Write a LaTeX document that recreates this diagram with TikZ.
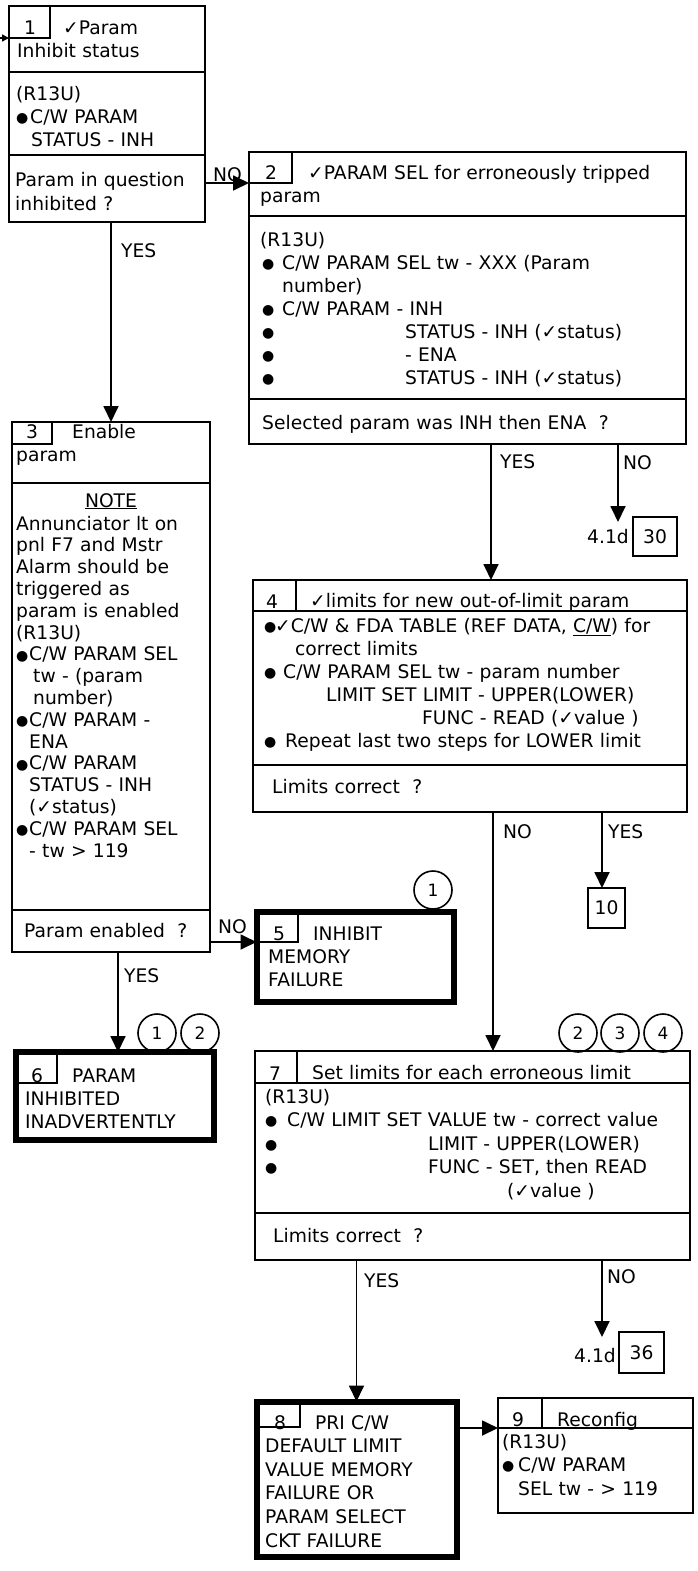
\documentclass[tikz,border=0pt]{standalone}
\usepackage{fontspec}
\setmainfont{DejaVu Sans}
\usetikzlibrary{arrows.meta}

\newcommand{\chk}{✓}
\newcommand{\bl}[1]{\makebox[#1][l]{\raisebox{0.8pt}{\fontsize{14}{14}\selectfont ●}}}

\tikzset{
  stepbox/.style={draw, line width=1.8pt, anchor=north west, inner sep=0pt, outer sep=0pt},
  endbox/.style={stepbox, line width=6pt},
  numbox/.style={draw, line width=1.6pt, anchor=north west, inner sep=0pt, outer sep=0pt},
  refbox/.style={numbox, font=\fontsize{18.7}{23}\selectfont},
  txt/.style={anchor=base west, inner sep=0pt, text width=420pt, align=left, font=\fontsize{18.7}{23}\selectfont},
  num/.style={anchor=base, inner sep=0pt, font=\fontsize{18.7}{23}\selectfont},
  lbl/.style={anchor=base west, inner sep=0pt, font=\fontsize{18.7}{23}\selectfont},
  conn/.style={circle, draw, line width=1.6pt, minimum size=38pt, inner sep=0pt, font=\fontsize{17}{20}\selectfont},
  divline/.style={line width=1.6pt},
  arr/.style={line width=1.8pt, -{Triangle[length=16pt,width=15pt]}},
}

\begin{document}
\begin{tikzpicture}[x=1pt, y=-1pt]
	\useasboundingbox (0,0) rectangle (698,1571);

	% Box 1: param inhibit status
	\node[stepbox, minimum width=196pt, minimum height=216pt] (b1) at (9,6) {};
	\node[numbox, minimum width=41pt, minimum height=32pt] (n1) at (9,6) {};
	\draw[divline] (b1.west |- 0,72) -- (b1.east |- 0,72);
	\draw[divline] (b1.west |- 0,155) -- (b1.east |- 0,155);
	\node[num] (t1) at (30,35) {1};
	\node[txt] (h1) at (17,35) {\hspace*{46pt}\chk Param\\Inhibit status};
	\node[txt] (p1) at (16,100) {(R13U)\\\bl{14pt}C/W PARAM\\\hspace*{15pt}STATUS - INH};
	\node[txt, font=\fontsize{18.7}{24}\selectfont] (q1) at (15,186) {Param in question\\inhibited ?};

	% Box 2: param sel
	\node[stepbox, minimum width=437pt, minimum height=292pt] (b2) at (249,152) {};
	\node[numbox, minimum width=43pt, minimum height=31pt] (n2) at (249,152) {};
	\draw[divline] (b2.west |- 0,216) -- (b2.east |- 0,216);
	\draw[divline] (b2.west |- 0,399) -- (b2.east |- 0,399);
	\node[num] (t2) at (271,179) {2};
	\node[txt] (h2) at (260,179) {\hspace*{48pt}\chk PARAM SEL for erroneously tripped\\param};
	\node[txt, font=\fontsize{18.7}{23.1}\selectfont] (p2) at (260,246) {(R13U)\\
		\hspace*{2pt}\bl{20pt}C/W PARAM SEL tw - XXX (Param\\
		\hspace*{22pt}number)\\
		\hspace*{2pt}\bl{20pt}C/W PARAM - INH\\
		\hspace*{2pt}\bl{143pt}STATUS - INH (\chk status)\\
		\hspace*{2pt}\bl{143pt}- ENA\\
		\hspace*{2pt}\bl{143pt}STATUS - INH (\chk status)};
	\node[txt] (q2) at (262,429) {Selected param was INH then ENA\ \ ?};

	% Box 3: enable param
	\node[stepbox, minimum width=198pt, minimum height=530pt] (b3) at (12,422) {};
	\node[numbox, minimum width=40pt, minimum height=22pt] (n3) at (12,422) {};
	\draw[divline] (b3.west |- 0,483) -- (b3.east |- 0,483);
	\draw[divline] (b3.west |- 0,910) -- (b3.east |- 0,910);
	\node[num] (t3) at (32,438) {3};
	\node[txt] (h3) at (16,438) {\hspace*{56pt}Enable\\param};
	\node[num] (note3) at (111,507) {\underline{NOTE}};
	\node[txt, font=\fontsize{18.7}{21.8}\selectfont] (p3) at (16,530) {Annunciator lt on\\
		pnl F7 and Mstr\\
		Alarm should be\\
		triggered as\\
		param is enabled\\
		(R13U)\\
		\bl{13pt}C/W PARAM SEL\\
		\hspace*{17pt}tw - (param\\
		\hspace*{17pt}number)\\
		\bl{13pt}C/W PARAM -\\
		\hspace*{13pt}ENA\\
		\bl{13pt}C/W PARAM\\
		\hspace*{13pt}STATUS - INH\\
		\hspace*{13pt}(\chk status)\\
		\bl{13pt}C/W PARAM SEL\\
		\hspace*{13pt}- tw > 119};
	\node[txt] (q3) at (24,937) {Param enabled\ \ ?};

	% Box 4: check limits
	\node[stepbox, minimum width=434pt, minimum height=232pt] (b4) at (253,580) {};
	\node[numbox, minimum width=43pt, minimum height=31pt] (n4) at (253,580) {};
	\draw[divline] (b4.west |- 0,611) -- (b4.east |- 0,611);
	\draw[divline] (b4.west |- 0,765) -- (b4.east |- 0,765);
	\node[num] (t4) at (272,608) {4};
	\node[txt] (h4) at (310,607) {\chk limits for new out-of-limit param};
	\node[txt] (p4) at (264,632) {\bl{11pt}\chk C/W \& FDA TABLE (REF DATA, \underline{C/W}) for\\
		\hspace*{31pt}correct limits\\
		\bl{19pt}C/W PARAM SEL tw - param number\\
		\hspace*{62pt}LIMIT SET LIMIT - UPPER(LOWER)\\
		\hspace*{158pt}FUNC - READ (\chk value )\\
		\bl{21pt}Repeat last two steps for LOWER limit};
	\node[txt] (q4) at (272,793) {Limits correct\ \ ?};

	% Box 5: inhibit memory failure
	\node[endbox, minimum width=197pt, minimum height=90pt] (b5) at (256.5,911.5) {};
	\node[numbox, minimum width=41.5pt, minimum height=30.5pt] (n5) at (256.5,911.5) {};
	\node[num] (t5) at (279,940) {5};
	\node[txt] (h5) at (268,940) {\hspace*{45pt}INHIBIT\\MEMORY\\FAILURE};
	\node[conn] (k5) at (433,890) {1};

	% Box 6: param inhibited inadvertently
	\node[endbox, minimum width=197.5pt, minimum height=88pt] (b6) at (16,1052) {};
	\node[numbox, minimum width=41pt, minimum height=31pt] (n6) at (16,1052) {};
	\node[num] (t6) at (37,1082) {6};
	\node[txt] (h6) at (25,1082) {\hspace*{47pt}PARAM\\INHIBITED\\INADVERTENTLY};
	\node[conn] (k6a) at (157,1033) {1};
	\node[conn] (k6b) at (200,1033) {2};

	% Box 7: set limits
	\node[stepbox, minimum width=435pt, minimum height=209pt] (b7) at (255,1051) {};
	\node[numbox, minimum width=42pt, minimum height=32pt] (n7) at (255,1051) {};
	\draw[divline] (b7.west |- 0,1083) -- (b7.east |- 0,1083);
	\draw[divline] (b7.west |- 0,1213) -- (b7.east |- 0,1213);
	\node[num] (t7) at (275,1080) {7};
	\node[txt] (h7) at (312,1079) {Set limits for each erroneous limit};
	\node[txt, font=\fontsize{18.7}{23.5}\selectfont] (p7) at (265,1103) {(R13U)\\
		\bl{22pt}C/W LIMIT SET VALUE tw - correct value\\
		\bl{163pt}LIMIT - UPPER(LOWER)\\
		\bl{163pt}FUNC - SET, then READ\\
		\hspace*{242pt}(\chk value )};
	\node[txt] (q7) at (273,1242) {Limits correct\ \ ?};
	\node[conn] (k7a) at (578,1033) {2};
	\node[conn] (k7b) at (620,1033) {3};
	\node[conn] (k7c) at (663,1033) {4};

	% Box 8: pri c/w failure
	\node[endbox, minimum width=200pt, minimum height=155pt] (b8) at (256.5,1401.5) {};
	\node[numbox, minimum width=43.5pt, minimum height=25.5pt] (n8) at (256.5,1401.5) {};
	\node[num] (t8) at (280,1429) {8};
	\node[txt, font=\fontsize{18.7}{23.6}\selectfont] (h8) at (265,1429) {\hspace*{50pt}PRI C/W\\DEFAULT LIMIT\\VALUE MEMORY\\FAILURE OR\\PARAM SELECT\\CKT FAILURE};

	% Box 9: reconfig
	\node[stepbox, minimum width=195pt, minimum height=115pt] (b9) at (498,1398) {};
	\node[numbox, minimum width=44pt, minimum height=30pt] (n9) at (498,1398) {};
	\draw[divline] (b9.west |- 0,1428) -- (b9.east |- 0,1428);
	\node[num] (t9) at (518,1426) {9};
	\node[txt] (h9) at (557,1426) {Reconfig};
	\node[txt, font=\fontsize{18.7}{23.5}\selectfont] (p9) at (502,1448) {(R13U)\\\bl{16pt}C/W PARAM\\\hspace*{16pt}SEL tw - > 119};

	% Off-page references
	\node[refbox, minimum width=44pt, minimum height=39pt] (r30) at (633,517) {30};
	\node[lbl] (d30) at (587,543) {4.1d};
	\node[refbox, minimum width=37pt, minimum height=40pt] (r10) at (588,888) {10};
	\node[refbox, minimum width=45pt, minimum height=41pt] (r36) at (619,1332) {36};
	\node[lbl] (d36) at (574,1362) {4.1d};

	% Connectors
	\coordinate (in1) at (0,38);
	\coordinate (x2yes) at (491,0);
	\coordinate (x3yes) at (118,0);
	\coordinate (x4no) at (493,0);
	\coordinate (x4yes) at (602,0);
	\coordinate (e30) at (618,522);
	\coordinate (e36) at (602,1337);
	\draw[line width=1.6pt, -{Triangle[length=7pt,width=7pt]}] (in1) -- (n1.south west);
	\draw[arr] (b1.east |- n2.south west) -- (n2.south west);
	\draw[arr] (b1.south -| b3.north) -- (b3.north);
	\draw[arr] (b2.south -| x2yes) -- (b4.north -| x2yes);
	\draw[arr] (b2.south -| e30) -- (e30);
	\draw[arr] (b3.east |- n5.south west) -- (n5.south west);
	\draw[arr] (b3.south -| x3yes) -- (b6.north -| x3yes);
	\draw[arr] (b4.south -| x4no) -- (b7.north -| x4no);
	\draw[arr] (b4.south -| x4yes) -- (r10.north -| x4yes);
	\draw[arr] (b7.south -| b8.north) -- (b8.north);
	\draw[arr] (b7.south -| e36) -- (e36);
	\draw[arr] (b8.east |- n9.south west) -- (n9.south west);

	% Branch labels
	\node[lbl] (no1) at (213,181) {NO};
	\node[lbl] (yes1) at (121,257) {YES};
	\node[lbl] (yes2) at (500,468) {YES};
	\node[lbl] (no2) at (623,469) {NO};
	\node[lbl] (no3) at (218,933) {NO};
	\node[lbl] (yes3) at (124,982) {YES};
	\node[lbl] (no4) at (503,838) {NO};
	\node[lbl] (yes4) at (608,838) {YES};
	\node[lbl] (yes7) at (364,1287) {YES};
	\node[lbl] (no7) at (607,1283) {NO};
\end{tikzpicture}
\end{document}
